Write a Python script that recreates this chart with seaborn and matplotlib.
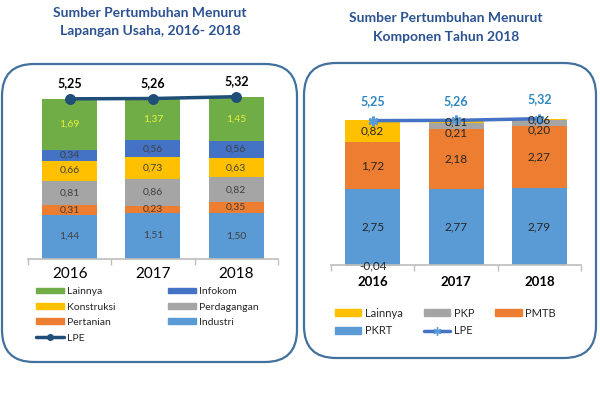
import numpy as np
import matplotlib.pyplot as plt
import seaborn as sns
from matplotlib.patches import FancyBboxPatch, Patch
from matplotlib.lines import Line2D

# --- data ---
years = ["2016", "2017", "2018"]

# Lapangan usaha (bawah -> atas)
industri = [1.44, 1.51, 1.50]
pertanian = [0.31, 0.23, 0.35]
perdagangan = [0.81, 0.86, 0.82]
konstruksi = [0.66, 0.73, 0.63]
infokom = [0.34, 0.56, 0.56]
lainnya_lu = [1.69, 1.37, 1.45]
lpe_lu = [5.25, 5.26, 5.32]

# Komponen pengeluaran (bawah -> atas)
pkrt = [2.75, 2.77, 2.79]
pmtb = [1.72, 2.18, 2.27]
pkp = [-0.04, 0.21, 0.20]
lainnya_k = [0.82, 0.11, 0.06]
lpe_k = [5.25, 5.26, 5.32]

sns.set_theme(style="white")
plt.rcParams["font.family"] = ["Lato", "DejaVu Sans"]

fig = plt.figure(figsize=(6, 4), dpi=100)


def px_axes(x0, y0, x1, y1):
    # kotak dalam piksel, origin kiri atas
    return fig.add_axes([x0 / 600, 1 - y1 / 400, (x1 - x0) / 600, (y1 - y0) / 400])


def fmt(v):
    return f"{v:.2f}".replace(".", ",")


def stacked(ax, layers, colors):
    pos = np.array([np.clip(l, 0, None) for l in layers])
    tops = pos.cumsum(axis=0)
    # gambar total kumulatif dari atas ke bawah, lapisan bawah menutupi
    for i in range(len(layers) - 1, -1, -1):
        sns.barplot(x=years, y=tops[i], color=colors[i], width=0.66, saturation=1,
                    linewidth=0, errorbar=None, ax=ax)
    neg = np.array([np.clip(l, None, 0) for l in layers])
    for i in range(len(layers)):
        if neg[i].any():
            sns.barplot(x=years, y=neg[i], color=colors[i], width=0.66, saturation=1,
                        linewidth=0, errorbar=None, ax=ax)
    return tops - pos


# bingkai bulat
for (x0, y0, x1, y1) in [(2, 64, 297, 362), (304, 63, 596, 358)]:
    box = FancyBboxPatch((x0 / 100, (400 - y1) / 100), (x1 - x0) / 100, (y1 - y0) / 100,
                         boxstyle="round,pad=0,rounding_size=0.32",
                         transform=fig.dpi_scale_trans, fc="none", ec="#41719C", lw=1.6)
    fig.add_artist(box)

# --- GRAFIK 1 : Lapangan Usaha ---
ax1 = px_axes(28, 76, 278, 258.5)
layers1 = [industri, pertanian, perdagangan, konstruksi, infokom, lainnya_lu]
colors1 = ["#5B9BD5", "#ED7D31", "#A5A5A5", "#FFC000", "#4472C4", "#70AD47"]
bottoms1 = stacked(ax1, layers1, colors1)
for j, layer in enumerate(layers1):
    for i, v in enumerate(layer):
        c = "#E2F03C" if j == 5 else "#404040"
        ax1.text(i, bottoms1[j][i] + v / 2, fmt(v), ha="center", va="center",
                 fontsize=7.5, color=c)
sns.pointplot(x=years, y=lpe_lu, color="#1F4E79", marker="o", markersize=6,
              linewidth=2.5, errorbar=None, ax=ax1)
for i, v in enumerate(lpe_lu):
    ax1.annotate(fmt(v), (i, v), xytext=(0, 11), textcoords="offset points",
                 ha="center", va="center", fontsize=9, fontweight="bold", color="black")
ax1.set_ylim(0, 6)

# --- GRAFIK 2 : Komponen ---
ax2 = px_axes(331, 100, 581, 270.5)
layers2 = [pkrt, pmtb, pkp, lainnya_k]
colors2 = ["#5B9BD5", "#ED7D31", "#A5A5A5", "#FFC000"]
bottoms2 = stacked(ax2, layers2, colors2)
for j, layer in enumerate(layers2):
    for i, v in enumerate(layer):
        if v < 0:
            y = v / 2
        else:
            y = bottoms2[j][i] + v / 2
            if j == 2:
                y -= 0.25
        ax2.text(i, y, fmt(v), ha="center", va="center", fontsize=8.5, color="#262626")
sns.pointplot(x=years, y=lpe_k, color="#4472C4", marker=(6, 2, 0), markersize=7,
              linewidth=2.5, errorbar=None, ax=ax2)
for line in ax2.lines:
    line.set_markeredgecolor("#5B9BD5")
for i, v in enumerate(lpe_k):
    ax2.annotate(fmt(v), (i, v), xytext=(0, 14), textcoords="offset points",
                 ha="center", va="center", fontsize=9, fontweight="bold", color="#2E86C1")
ax2.set_ylim(-0.2, 6)
ax2.spines["bottom"].set_position(("data", 0))

for ax, fs, fw, pad in [(ax1, 11, "normal", 6), (ax2, 9.5, "bold", 8)]:
    sns.despine(ax=ax, left=True)
    ax.set_xlim(-0.5, 2.5)
    ax.set_yticks([])
    ax.set_xlabel("")
    ax.set_ylabel("")
    ax.patch.set_alpha(0)
    ax.spines["bottom"].set_color("#BFBFBF")
    ax.set_xticks([0, 1, 2], years, fontsize=fs, fontweight=fw, color="black")
    ax.set_xticks([-0.5, 0.5, 1.5, 2.5], minor=True)
    ax.tick_params(axis="x", which="major", length=0, pad=pad)
    ax.tick_params(axis="x", which="minor", bottom=True, length=4, color="#BFBFBF", width=1)

# legenda
h1 = [Patch(color=colors1[5], label="Lainnya"), Patch(color=colors1[3], label="Konstruksi"),
      Patch(color=colors1[1], label="Pertanian"),
      Line2D([], [], color="#1F4E79", lw=2.5, marker="o", ms=4, label="LPE"),
      Patch(color=colors1[4], label="Infokom"), Patch(color=colors1[2], label="Perdagangan"),
      Patch(color=colors1[0], label="Industri")]
fig.legend(handles=h1, loc="upper left", bbox_to_anchor=(31 / 600, 1 - 282 / 400), ncol=2,
           frameon=False, fontsize=7.5, borderpad=0, handlelength=2.7, handleheight=0.5,
           handletextpad=0.3, labelspacing=0.62, columnspacing=5.0)

h2 = [Patch(color=colors2[3], label="Lainnya"), Patch(color=colors2[0], label="PKRT"),
      Patch(color=colors2[2], label="PKP"),
      Line2D([], [], color="#4472C4", lw=2.5, marker=(6, 2, 0), ms=6, mec="#5B9BD5", label="LPE"),
      Patch(color=colors2[1], label="PMTB")]
fig.legend(handles=h2, loc="upper left", bbox_to_anchor=(329 / 600, 1 - 302 / 400), ncol=3,
           frameon=False, fontsize=8, borderpad=0, handlelength=2.4, handleheight=0.55,
           handletextpad=0.3, labelspacing=0.6, columnspacing=1.9)

# judul
fig.text(150 / 600, 1 - 22 / 400, "Sumber Pertumbuhan Menurut\nLapangan Usaha, 2016- 2018",
         ha="center", va="center", fontsize=10, fontweight="bold", color="#2B5291", linespacing=1.6)
fig.text(446 / 600, 1 - 27.5 / 400, "Sumber Pertumbuhan Menurut\nKomponen Tahun 2018",
         ha="center", va="center", fontsize=10, fontweight="bold", color="#2B5291", linespacing=1.65)

fig.savefig("out.png", dpi=100)
